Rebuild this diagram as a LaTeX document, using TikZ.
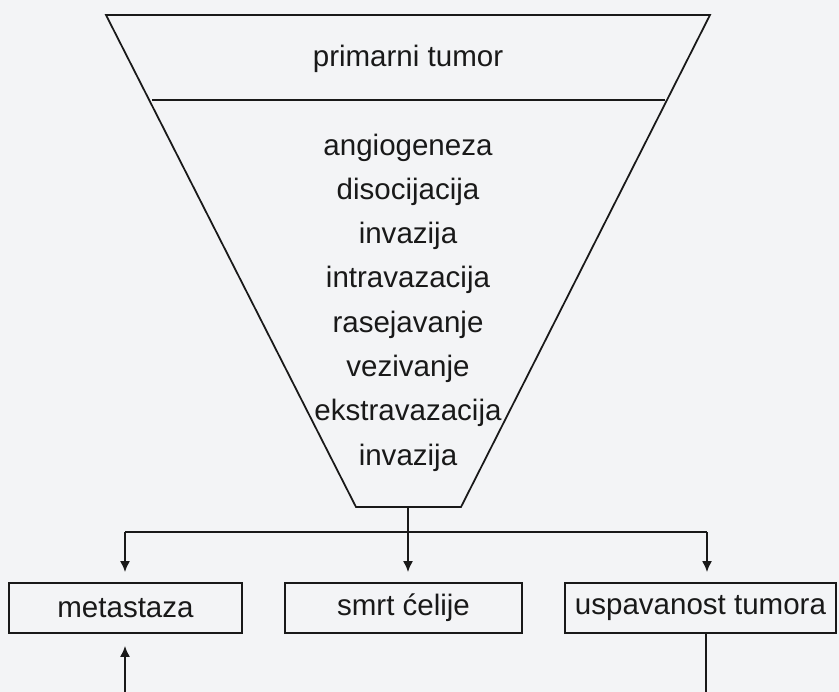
\documentclass[tikz,border=0pt]{standalone}
\usepackage{fontspec}
\setmainfont{Liberation Sans}
\usetikzlibrary{arrows.meta}
\definecolor{paper}{RGB}{243,244,246}
\tikzset{
  line/.style={line width=1pt,black!90},
  arr/.style={line,-{Latex[length=2.2mm,width=2mm]}},
  txt/.style={font=\fontsize{16.8}{20}\selectfont,text=black!90,inner sep=0pt},
  box/.style={draw,line,txt,minimum height=10mm,inner sep=0pt}
}
\begin{document}
\begin{tikzpicture}[x=0.2mm,y=-0.2mm]
        % Page
        \fill[paper] (0,0) rectangle (839,692);
        \useasboundingbox (0,0) rectangle (839,692);

        % Funnel corners
        \coordinate (tl) at (106,15);
        \coordinate (tr) at (710,15);
        \coordinate (br) at (461,507);
        \coordinate (bl) at (356,507);
        \draw[line] (tl) -- (tr) -- (br) -- (bl) -- cycle; % Funnel outline
        \draw[line] (152,100) -- (665,100); % Line under primarni tumor

        % Funnel labels
        \node[txt,anchor=base] (prim) at (408,66) {primarni tumor};
        \foreach \w [count=\i] in {angiogeneza,disocijacija,invazija,intravazacija,rasejavanje,vezivanje,ekstravazacija,invazija}
            \node[txt,anchor=base] (step\i) at (408,{155+44.3*(\i-1)}) {\w};

        % Outcome boxes
        \node[box,minimum width=46.6mm] (meta) at (125.5,608) {metastaza};
        \node[box,minimum width=47.4mm] (smrt) at (403.5,608) {smrt ćelije};
        \node[box,minimum width=54.2mm] (usp) at (700.5,608) {uspavanost tumora};

        % Branching
        \coordinate (stem) at (408,507);
        \coordinate (j1) at (125,532);
        \coordinate (j2) at (408,532);
        \coordinate (j3) at (707,532);
        \draw[line] (stem) -- (j2);
        \draw[line] (j1) -- (j3);
        \draw[arr,shorten >=2mm] (j1) -- (j1 |- meta.north);
        \draw[arr,shorten >=2mm] (j2) -- (j2 |- smrt.north);
        \draw[arr,shorten >=2mm] (j3) -- (j3 |- usp.north);

        % Return path (runs off the page)
        \coordinate (r1) at (125,692);
        \coordinate (r3) at (706,692);
        \draw[line] (r3 |- usp.south) -- (r3);
        \draw[arr,shorten >=2.4mm] (r1) -- (r1 |- meta.south);
\end{tikzpicture}
\end{document}
